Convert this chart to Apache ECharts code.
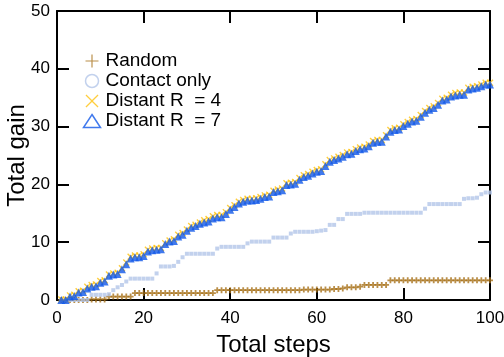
<!DOCTYPE html>
<html><head><meta charset="utf-8">
<script src="https://cdn.jsdelivr.net/npm/echarts@6/dist/echarts.min.js"></script>
<style>html,body{margin:0;padding:0;background:#fff}#c{width:504px;height:357px}</style>
</head><body><div id="c"></div>
<script>
var steps = [];
for (var i = 1; i <= 100; i++) steps.push(i);
var xTicks = [0, 20, 40, 60, 80, 100];
var yTicks = [0, 10, 20, 30, 40, 50];
var seriesNames = ['Random', 'Contact only', 'Distant R  = 4', 'Distant R  = 7'];

var randomGain = [0,0,0,0,0,0,0,0.1,0.1,0.1,
  0.1,0.6,0.6,0.6,0.6,0.6,0.6,1.2,1.2,1.2,
  1.2,1.2,1.2,1.2,1.2,1.2,1.2,1.2,1.2,1.2,
  1.2,1.2,1.2,1.2,1.2,1.2,1.7,1.7,1.7,1.7,
  1.7,1.7,1.7,1.7,1.7,1.7,1.7,1.7,1.7,1.7,
  1.7,1.7,1.7,1.7,1.7,1.7,1.8,1.8,1.8,1.8,
  1.8,1.8,1.8,1.9,1.9,2.0,2.2,2.2,2.2,2.3,
  2.6,2.6,2.6,2.6,2.6,2.6,3.4,3.4,3.4,3.4,
  3.4,3.4,3.4,3.4,3.4,3.4,3.4,3.4,3.4,3.4,
  3.4,3.4,3.4,3.4,3.4,3.4,3.4,3.4,3.4,3.4];

var contactGain = [0,0,0,0,0,0,0,0.9,0.9,0.9,
  0.9,1.0,1.7,2.2,2.6,3.2,3.7,3.7,3.7,3.7,
  3.7,3.7,4.6,5.8,5.8,5.8,5.9,6.6,7.4,8.0,
  8.0,8.0,8.0,8.0,8.0,8.0,8.9,9.2,9.2,9.2,
  9.2,9.2,9.2,9.8,10.1,10.1,10.1,10.1,10.1,10.8,
  10.8,10.8,10.8,11.5,11.8,11.8,11.8,11.8,11.8,11.9,
  12.0,12.1,13.0,13.0,14.0,14.0,14.9,14.9,14.9,14.9,
  15.1,15.1,15.1,15.1,15.1,15.1,15.1,15.1,15.1,15.1,
  15.1,15.1,15.1,15.1,15.8,16.6,16.6,16.6,16.6,16.6,
  16.6,16.6,16.6,17.5,17.6,17.6,17.7,18.3,18.6,18.6];

var distant4Gain = [0.1,0.1,0.8,0.9,1.5,1.6,2.3,2.6,2.7,3.3,
  3.4,4.4,4.6,4.7,5.5,6.5,7.5,7.7,7.7,7.9,
  8.7,8.9,9.0,9.0,9.8,10.3,10.5,11.3,11.6,12.2,
  12.8,13.0,13.4,13.8,14.0,14.5,14.7,14.7,15.2,15.9,
  16.4,17.0,17.3,17.5,17.5,17.6,17.8,18.1,18.2,18.9,
  19.1,19.3,20.2,20.3,20.4,21.1,21.6,21.8,22.2,22.5,
  22.6,23.5,24.2,24.5,24.8,25.1,25.5,25.6,26.1,26.4,
  26.5,26.9,27.5,27.7,27.7,28.5,29.4,29.7,29.8,30.4,
  30.8,31.2,31.3,32.0,32.7,33.2,33.5,34.1,34.8,35.0,
  35.5,35.8,35.9,35.9,36.7,36.9,37.0,37.3,37.6,37.6];

var distant7Gain = [0,0,0.6,0.7,1.3,1.4,2.0,2.3,2.4,3.0,
  3.2,4.2,4.4,4.5,5.3,6.2,7.2,7.4,7.4,7.6,
  8.4,8.6,8.7,8.8,9.7,10.1,10.2,11.0,11.3,12.0,
  12.5,12.8,13.2,13.4,13.6,14.1,14.3,14.3,14.9,15.6,
  16.1,16.7,17.0,17.2,17.2,17.3,17.5,17.8,17.9,18.7,
  18.8,19.0,19.9,20.0,20.1,20.8,21.3,21.5,21.9,22.2,
  22.3,23.2,23.9,24.2,24.5,24.8,25.2,25.3,25.8,26.1,
  26.2,26.6,27.2,27.4,27.4,28.3,29.1,29.4,29.5,30.1,
  30.5,30.9,31.0,31.7,32.4,32.9,33.2,33.8,34.5,34.7,
  35.2,35.4,35.5,35.5,36.4,36.6,36.7,37.0,37.3,37.3];

function pairs(vals){ return steps.map(function(s,i){ return [s, vals[i]]; }); }

var FONT = "'Liberation Sans', Arial, sans-serif";
var C_RANDOM = '#a8721a', C_CONTACT = '#b3c6e8', C_R4 = '#ffc20e', C_R7 = '#1058e8';
var plusPath = 'path://M3.5,0h3v10h-3z M0,3.5h10v3h-10z';
var crossPath = 'path://M1.4,0 L5,3.6 L8.6,0 L10,1.4 L6.4,5 L10,8.6 L8.6,10 L5,6.4 L1.4,10 L0,8.6 L3.6,5 L0,1.4 Z';
var crossThin = 'path://M0.7,0 L5,4.3 L9.3,0 L10,0.7 L5.7,5 L10,9.3 L9.3,10 L5,5.7 L0.7,10 L0,9.3 L4.3,5 L0,0.7 Z';
var plusThin = 'path://M4.55,0h0.9v10h-0.9z M0,4.55h10v0.9h-10z';

var chart = echarts.init(document.getElementById('c'), null, {renderer:'canvas'});
function axisCommon(){
  return {
    axisLine:{show:true, onZero:false, lineStyle:{color:'#000', width:2}},
    axisTick:{show:true, inside:true, length:12, lineStyle:{color:'#000', width:2}},
    splitLine:{show:false}
  };
}
chart.setOption({
  animation:false,
  backgroundColor:'#fff',
  textStyle:{fontFamily:FONT},
  grid:{left:57, right:14, top:11, bottom:57, containLabel:false, outerBoundsMode:'none'},
  legend:{
    left:76, top:46, orient:'vertical', itemGap:0, itemWidth:17, itemHeight:13,
    textStyle:{fontFamily:FONT, fontSize:19, lineHeight:20, color:'#000'},
    data:[
      {name:seriesNames[0], icon:plusThin, itemStyle:{color:C_RANDOM}},
      {name:seriesNames[1], icon:'circle', itemStyle:{color:'none', borderColor:C_CONTACT, borderWidth:1.5}},
      {name:seriesNames[2], icon:crossThin, itemStyle:{color:C_R4}},
      {name:seriesNames[3], icon:'triangle', itemStyle:{color:'none', borderColor:C_R7, borderWidth:1.5}}
    ]
  },
  xAxis:[
    Object.assign({type:'value', min:xTicks[0], max:xTicks[xTicks.length-1], interval:20, position:'bottom',
      name:'Total steps', nameLocation:'middle', nameGap:33, nameMoveOverlap:false,
      nameTextStyle:{fontFamily:FONT, fontSize:24, color:'#000'},
      axisLabel:{fontFamily:FONT, fontSize:17, color:'#000', margin:10}}, axisCommon()),
    Object.assign({type:'value', min:0, max:100, interval:20, position:'top', axisLabel:{show:false}}, axisCommon())
  ],
  yAxis:[
    Object.assign({type:'value', min:yTicks[0], max:yTicks[yTicks.length-1], interval:10, position:'left',
      name:'Total gain', nameLocation:'middle', nameGap:28, nameMoveOverlap:false,
      nameTextStyle:{fontFamily:FONT, fontSize:24, color:'#000'},
      axisLabel:{fontFamily:FONT, fontSize:17, color:'#000', margin:7}}, axisCommon()),
    Object.assign({type:'value', min:0, max:50, interval:10, position:'right', axisLabel:{show:false}}, axisCommon())
  ],
  series:[
    {name:seriesNames[0], type:'scatter', data:pairs(randomGain), symbol:plusPath, symbolSize:6,
      itemStyle:{color:C_RANDOM}},
    {name:seriesNames[1], type:'scatter', data:pairs(contactGain), symbol:'rect', symbolSize:4,
      itemStyle:{color:C_CONTACT}},
    {name:seriesNames[2], type:'scatter', data:pairs(distant4Gain), symbol:crossPath, symbolSize:7,
      itemStyle:{color:C_R4}},
    {name:seriesNames[3], type:'scatter', data:pairs(distant7Gain), symbol:'triangle', symbolSize:8,
      itemStyle:{color:C_R7}}
  ]
});
</script></body></html>
